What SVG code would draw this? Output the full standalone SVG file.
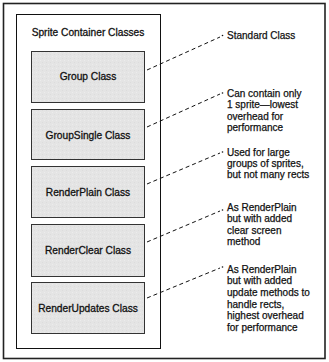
<svg xmlns="http://www.w3.org/2000/svg" width="329" height="362" viewBox="0 0 329 362">
<defs>
<pattern id="tex" width="4" height="4" patternUnits="userSpaceOnUse">
<rect width="4" height="4" fill="#e4e4e4"/>
<rect x="0" y="0" width="1" height="1" fill="#ececec"/>
<rect x="2" y="2" width="1" height="1" fill="#dcdcdc"/>
</pattern>
</defs>
<style>
.frame{fill:#fff;stroke:#222;stroke-width:1.6}
.container{fill:#fff;stroke:#111;stroke-width:1}
.box{fill:url(#tex);stroke:#333;stroke-width:1}
.lbl{font-family:"Liberation Sans",Arial,sans-serif;font-size:10.2px;fill:#111;stroke:#111;stroke-width:0.3;text-anchor:middle}
.note{font-family:"Liberation Sans",Arial,sans-serif;font-size:10px;fill:#111;stroke:#111;stroke-width:0.25}
.dash{fill:none;stroke:#111;stroke-width:1;stroke-dasharray:4 3}
.dot{fill:#111}
</style>
<rect class="frame" x="3.5" y="3.5" width="321.5" height="355"/>
<g id="container">
<rect class="container" x="16.5" y="14.5" width="144" height="334"/>
<text class="lbl" x="88" y="36">Sprite Container Classes</text>
</g>
<g id="group">
<rect class="box" x="31.5" y="51.5" width="113" height="51"/>
<text class="lbl" x="88" y="80">Group Class</text>
</g>
<g id="groupsingle">
<rect class="box" x="31.5" y="109.5" width="113" height="50"/>
<text class="lbl" x="88" y="139">GroupSingle Class</text>
</g>
<g id="renderplain">
<rect class="box" x="31.5" y="166.5" width="113" height="51"/>
<text class="lbl" x="88" y="196">RenderPlain Class</text>
</g>
<g id="renderclear">
<rect class="box" x="31.5" y="224.5" width="113" height="52"/>
<text class="lbl" x="88" y="254">RenderClear Class</text>
</g>
<g id="renderupdates">
<rect class="box" x="31.5" y="282.5" width="113" height="51"/>
<text class="lbl" x="88" y="312">RenderUpdates Class</text>
</g>
<g id="note-standard">
<text class="note" x="227" y="39">Standard Class</text>
</g>
<g id="note-groupsingle">
<text class="note" x="227" y="97">Can contain only</text>
<text class="note" x="227" y="108.3">1 sprite—lowest</text>
<text class="note" x="227" y="119.6">overhead for</text>
<text class="note" x="227" y="130.9">performance</text>
</g>
<g id="note-renderplain">
<text class="note" x="227" y="156">Used for large</text>
<text class="note" x="227" y="167">groups of sprites,</text>
<text class="note" x="227" y="178">but not many rects</text>
</g>
<g id="note-renderclear">
<text class="note" x="227" y="211">As RenderPlain</text>
<text class="note" x="227" y="222.4">but with added</text>
<text class="note" x="227" y="233.8">clear screen</text>
<text class="note" x="227" y="245.2">method</text>
</g>
<g id="note-renderupdates">
<text class="note" x="227" y="272.5">As RenderPlain</text>
<text class="note" x="227" y="284.2">but with added</text>
<text class="note" x="227" y="295.9">update methods to</text>
<text class="note" x="227" y="307.6">handle rects,</text>
<text class="note" x="227" y="319.3">highest overhead</text>
<text class="note" x="227" y="331">for performance</text>
</g>
<g id="connectors">
<path class="dash" d="M147 70 L220 37"/>
<circle class="dot" cx="222.5" cy="35.5" r="0.8"/>
<path class="dash" d="M147 127 L220 94"/>
<circle class="dot" cx="222.5" cy="93" r="0.8"/>
<path class="dash" d="M147 184 L220 153"/>
<circle class="dot" cx="222.5" cy="152" r="0.8"/>
<path class="dash" d="M147 242 L220 211"/>
<circle class="dot" cx="222.5" cy="210" r="0.8"/>
<path class="dash" d="M147 298 L220 268"/>
<circle class="dot" cx="222.5" cy="267" r="0.8"/>
</g>
</svg>
